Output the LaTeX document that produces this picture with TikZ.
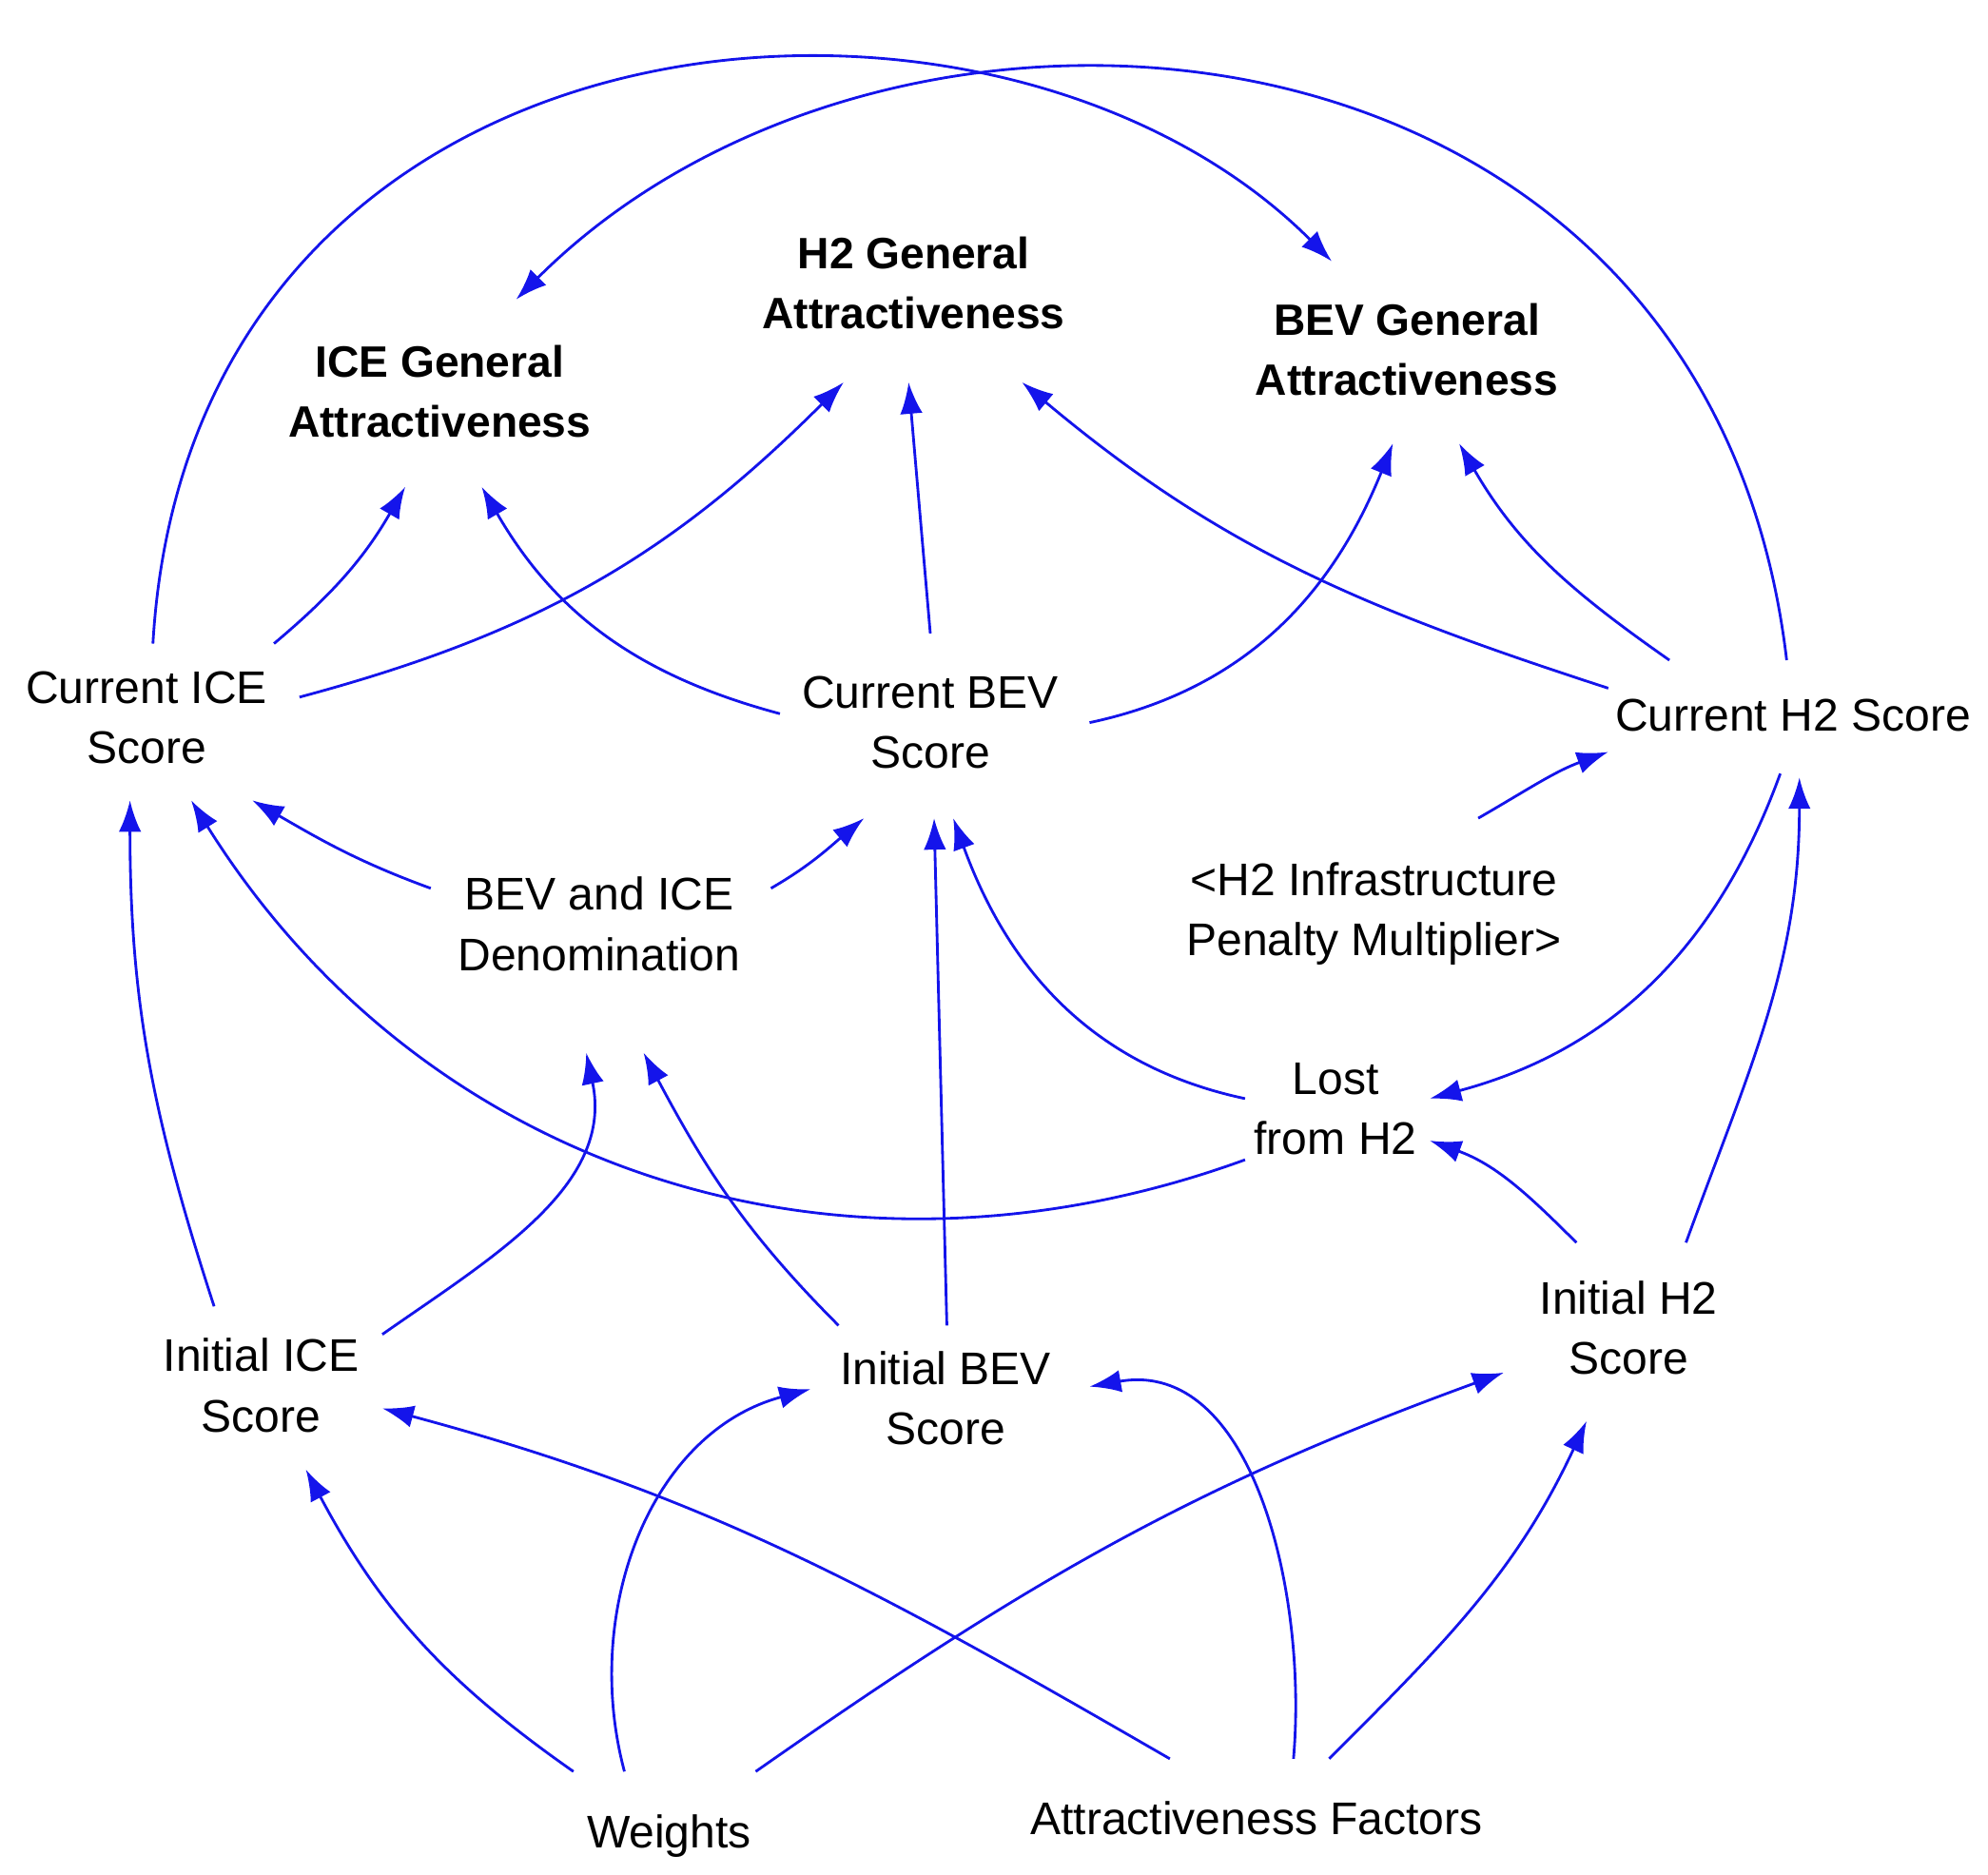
\documentclass[tikz,border=0pt]{standalone}
\usepackage{fontspec}
\setmainfont{Liberation Sans}
\usetikzlibrary{arrows.meta}
\definecolor{lnk}{RGB}{20,20,235}
\begin{document}
\begin{tikzpicture}[x=0.01cm,y=-0.01cm,
  v/.style={align=center,inner sep=3pt,font=\fontsize{10.2}{13.4}\selectfont},
  b/.style={v,font=\fontsize{9.8}{13.4}\selectfont\bfseries},
  e/.style={draw=lnk,line width=0.6pt,-{Latex[length=7pt,width=5pt]}}]
\useasboundingbox (0,0) rectangle (1560,1471);
\node[b] (iga) at (345,307) {ICE General\\Attractiveness};
\node[b] (hga) at (717,222) {H2 General\\Attractiveness};
\node[b] (bga) at (1104,274) {BEV General\\Attractiveness};
\node[v] (cice) at (115,563) {Current ICE\\Score};
\node[v] (cbev) at (730,567) {Current BEV\\Score};
\node[v] (ch2) at (1407,561) {Current H2 Score};
\node[v] (den) at (470,725) {BEV and ICE\\Denomination};
\node[v] (inf) at (1078,717) {<H2 Infrastructure\\Penalty Multiplier>};
\node[v] (lost) at (1048,870) {Lost\\from H2};
\node[v] (iice) at (205,1087) {Initial ICE\\Score};
\node[v] (ibev) at (742,1097) {Initial BEV\\Score};
\node[v] (ih2) at (1278,1042) {Initial H2\\Score};
\node[v] (w) at (525,1441) {Weights};
\node[v] (af) at (986,1427) {Attractiveness Factors};

\draw[e] ([shift={(5,-58)}]cice.center) .. controls (150,-10) and (780,-60) .. ([shift={(-59,-69)}]bga.center);
\draw[e] ([shift={(-5,-43)}]ch2.center) .. controls (1340,-10) and (700,-60) .. ([shift={(60,-72)}]iga.center);
\draw[e] ([shift={(100,-58)}]cice.center) to[out=40,in=-120] ([shift={(-27,75)}]iga.center);
\draw[e] ([shift={(120,-16)}]cice.center) to[out=15,in=-135] ([shift={(-55,78)}]hga.center);
\draw[e] ([shift={(-118,-7)}]cbev.center) to[out=165,in=-60] ([shift={(33,75)}]iga.center);
\draw[e] ([shift={(0,-70)}]cbev.center) -- ([shift={(-4,78)}]hga.center);
\draw[e] ([shift={(125,0)}]cbev.center) to[out=12,in=-112] ([shift={(-11,74)}]bga.center);
\draw[e] ([shift={(-145,-21)}]ch2.center) to[out=162,in=-40] ([shift={(85,78)}]hga.center);
\draw[e] ([shift={(-97,-43)}]ch2.center) to[out=145,in=-60] ([shift={(41,74)}]bga.center);
\draw[e] ([shift={(-132,-28)}]den.center) to[out=160,in=-30] ([shift={(83,65)}]cice.center);
\draw[e] ([shift={(135,-28)}]den.center) to[out=30,in=-140] ([shift={(-52,75)}]cbev.center);
\draw[e] ([shift={(82,-75)}]inf.center) to[out=30,in=-160] ([shift={(-145,29)}]ch2.center);
\draw[e] ([shift={(-71,40)}]lost.center) to[out=200,in=-58] ([shift={(35,65)}]cice.center);
\draw[e] ([shift={(-71,-8)}]lost.center) to[out=168,in=-70] ([shift={(18,75)}]cbev.center);
\draw[e] ([shift={(-10,46)}]ch2.center) to[out=-110,in=15] ([shift={(74,-8)}]lost.center);
\draw[e] ([shift={(-41,-67)}]ih2.center) to[out=135,in=-20] ([shift={(74,25)}]lost.center);
\draw[e] ([shift={(45,-67)}]ih2.center) to[out=70,in=-90] ([shift={(5,49)}]ch2.center);
\draw[e] ([shift={(-37,-62)}]iice.center) to[out=108,in=-90] ([shift={(-13,65)}]cice.center);
\draw[e] ([shift={(95,-40)}]iice.center) to[out=35,in=-78] ([shift={(-10,101)}]den.center);
\draw[e] ([shift={(-84,-57)}]ibev.center) to[out=135,in=-62] ([shift={(35,101)}]den.center);
\draw[e] ([shift={(1,-57)}]ibev.center) -- ([shift={(3,75)}]cbev.center);
\draw[e] ([shift={(-75,-51)}]w.center) to[out=145,in=-62] ([shift={(35,66)}]iice.center);
\draw[e] ([shift={(-35,-51)}]w.center) to[out=105,in=195] ([shift={(-106,-7)}]ibev.center);
\draw[e] ([shift={(68,-51)}]w.center) to[out=35,in=-160] ([shift={(-98,35)}]ih2.center);
\draw[e] ([shift={(-68,-47)}]af.center) to[out=150,in=-15] ([shift={(95,18)}]iice.center);
\draw[e] ([shift={(29,-47)}]af.center) to[out=85,in=10] ([shift={(113,-9)}]ibev.center);
\draw[e] ([shift={(57,-47)}]af.center) to[out=45,in=-115] ([shift={(-33,73)}]ih2.center);
\end{tikzpicture}
\end{document}
